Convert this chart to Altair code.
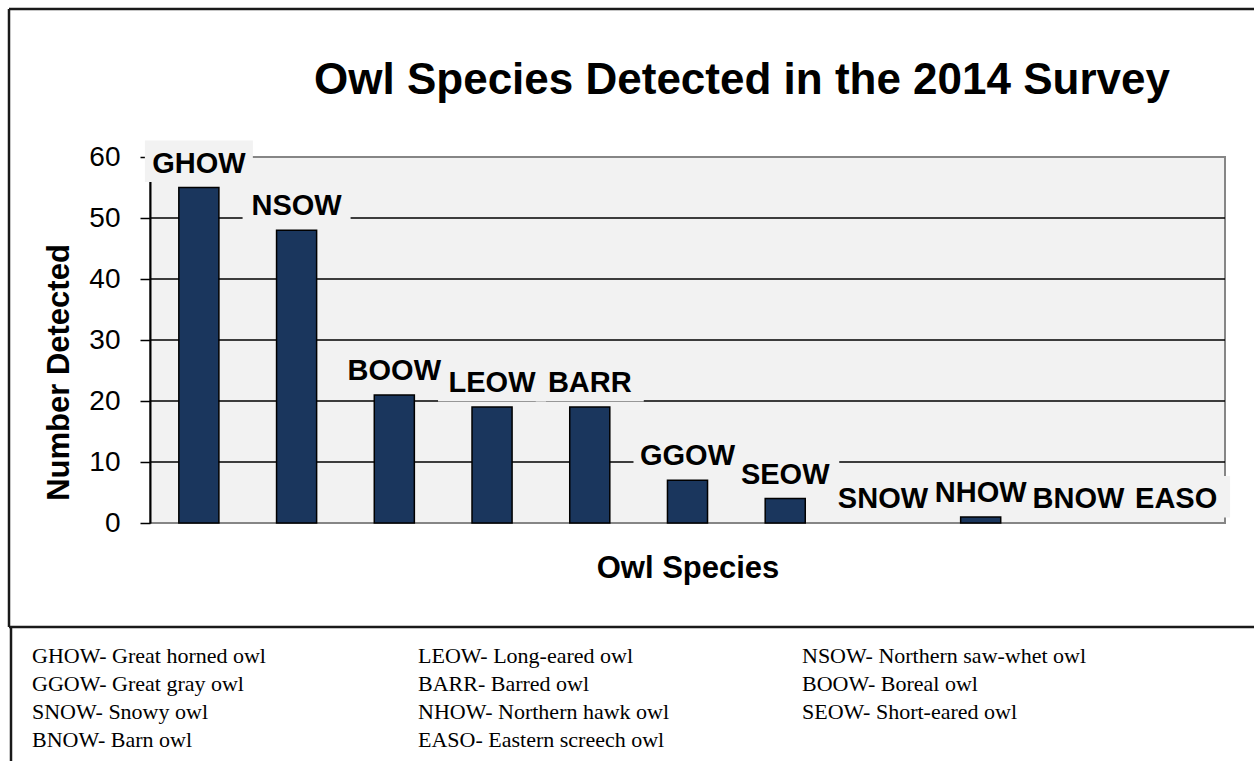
import altair as alt
import pandas as pd

codes = ["GHOW", "NSOW", "BOOW", "LEOW", "BARR", "GGOW", "SEOW", "SNOW", "NHOW", "BNOW", "EASO"]
counts = [55, 48, 21, 19, 19, 7, 4, 0, 1, 0, 0]
grid_values = [10, 20, 30, 40, 50]
y_ticks = [0, 10, 20, 30, 40, 50, 60]

legend_col1 = ["GHOW- Great horned owl", "GGOW- Great gray owl", "SNOW- Snowy owl", "BNOW- Barn owl"]
legend_col2 = ["LEOW- Long-eared owl", "BARR- Barred owl", "NHOW- Northern hawk owl", "EASO- Eastern screech owl"]
legend_col3 = ["NSOW- Northern saw-whet owl", "BOOW- Boreal owl", "SEOW- Short-eared owl"]

title_text = "Owl Species Detected in the 2014 Survey"
x_title = "Owl Species"
y_title = "Number Detected"

df = pd.DataFrame({"code": codes, "count": counts})
grid_df = pd.DataFrame({"g": grid_values})

W, H = 1075, 366
SANS = "Liberation Sans"
SERIF = "Liberation Serif"

xenc = alt.X("code:N", sort=codes,
             scale=alt.Scale(paddingInner=0.59, paddingOuter=0.295),
             axis=alt.Axis(labels=False, ticks=False, domain=False, grid=False,
                           title=x_title, titleFont=SANS, titleFontSize=31,
                           titleFontWeight="bold", titleColor="black",
                           titleX=W / 2, titleY=54, titleAlign="center",
                           titleBaseline="alphabetic"))
yscale = alt.Scale(domain=[0, 60], nice=False)
yaxis = alt.Axis(values=y_ticks, grid=False, tickSize=10, tickColor="black",
                 tickWidth=1.5, domainColor="black", domainWidth=2,
                 labelFont=SANS, labelFontSize=28, labelColor="black",
                 labelPadding=20, title=y_title, titleFont=SANS,
                 titleFontSize=31, titleFontWeight="bold", titleColor="black",
                 titleAngle=270, titleX=-91, titleY=215, titleAlign="center",
                 titleBaseline="middle")

base = alt.Chart(df)

grid = alt.Chart(grid_df).mark_rule(color="black", strokeWidth=1.5).encode(
    y=alt.Y("g:Q", scale=yscale, axis=yaxis)
)

boxes = base.transform_calculate(
    b1="datum.count + 0.9", b2="datum.count + 7.7"
).mark_bar(size=108, color="#f2f2f2").encode(
    x=xenc, y=alt.Y("b1:Q", scale=yscale), y2="b2:Q"
)

bars = base.transform_filter("datum.count > 0").mark_bar(
    color="#1a365d", stroke="black", strokeWidth=1.5
).encode(x=xenc, y=alt.Y("count:Q", scale=yscale))

labels = base.mark_text(font=SANS, fontSize=29, fontWeight="bold", color="black",
                        baseline="alphabetic", dy=-15).encode(
    x=xenc, y=alt.Y("count:Q", scale=yscale), text="code:N"
)

one = pd.DataFrame({"t": [title_text]})
title = alt.Chart(one).mark_text(font=SANS, fontSize=44, fontWeight="bold",
                                 color="black", baseline="alphabetic",
                                 align="center").encode(
    x=alt.value(592), y=alt.value(-63), text="t:N"
)

frame_color = "#1a1a1a"
dummy = pd.DataFrame({"a": [0]})
frame = [
    alt.Chart(dummy).mark_rule(color=frame_color, strokeWidth=2.5).encode(
        x=alt.value(-141), x2=alt.value(1104), y=alt.value(-148)),
    alt.Chart(dummy).mark_rule(color=frame_color, strokeWidth=2.5).encode(
        x=alt.value(-141), y=alt.value(-148), y2=alt.value(470)),
    alt.Chart(dummy).mark_rule(color=frame_color, strokeWidth=2.5).encode(
        x=alt.value(-141), x2=alt.value(1104), y=alt.value(470)),
    alt.Chart(dummy).mark_rule(color=frame_color, strokeWidth=2.5).encode(
        x=alt.value(-139), y=alt.value(470), y2=alt.value(604)),
]

legend_layers = []
col_x = [32 - 150, 418 - 150, 802 - 150]
row_y = [663 - 157, 691 - 157, 719 - 157, 747 - 157]
for ci, col in enumerate([legend_col1, legend_col2, legend_col3]):
    for ri, txt in enumerate(col):
        legend_layers.append(
            alt.Chart(pd.DataFrame({"t": [txt]})).mark_text(
                font=SERIF, fontSize=22, color="black", align="left",
                baseline="alphabetic"
            ).encode(x=alt.value(col_x[ci]), y=alt.value(row_y[ri]), text="t:N")
        )

chart = alt.layer(grid, boxes, bars, labels, title, *frame, *legend_layers).properties(
    width=W, height=H,
    autosize=alt.AutoSizeParams(type="none"),
    padding={"left": 150, "top": 157, "right": 29, "bottom": 238},
    background="white",
).configure_view(fill="#f2f2f2", stroke="#868686", strokeWidth=2)

chart.save("out.html", embed_options={"renderer": "svg", "actions": False})
